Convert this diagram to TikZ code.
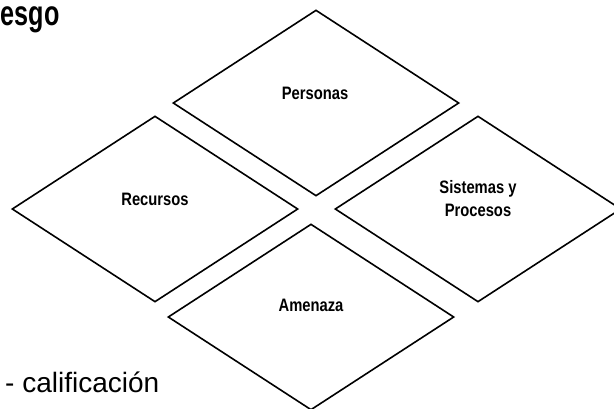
\documentclass[tikz,border=0pt]{standalone}
\usepackage{fontspec}
\setmainfont{Liberation Sans}
\newfontfamily\lblfont[FakeStretch=0.82]{Liberation Sans}
\newfontfamily\ttlfont[FakeStretch=0.72]{Liberation Sans}
\usetikzlibrary{shapes.geometric}
\tikzset{
  rombo/.style={draw, diamond, line width=1.6pt, line join=miter, minimum width=286pt, minimum height=186pt, inner sep=0pt},
  lbl/.style={font=\lblfont\bfseries\fontsize{18}{23}\selectfont, align=center, inner sep=0pt},
}
\begin{document}
\begin{tikzpicture}[x=1pt,y=-1pt]
\clip (0,0) rectangle (614,408);
\node[rombo] (per) at (316,103) {};
\node[rombo] (rec) at (155,209) {};
\node[rombo] (sis) at (478,209) {};
\node[rombo] (ame) at (311,317) {};
\node[lbl] (tper) at (315,93.5) {Personas};
\node[lbl] (trec) at (155,199) {Recursos};
\node[lbl] (tsis) at (478,199) {Sistemas y\\Procesos};
\node[lbl] (tame) at (311,305.5) {Amenaza};
\node[font=\ttlfont\bfseries\fontsize{35}{40}\selectfont, anchor=base west, inner sep=0pt] (ttl) at (0.5,25) {esgo};
\node[font=\fontsize{28}{32}\selectfont, anchor=base west, inner sep=0pt] (cal) at (5,392) {- calificación};
\end{tikzpicture}
\end{document}
